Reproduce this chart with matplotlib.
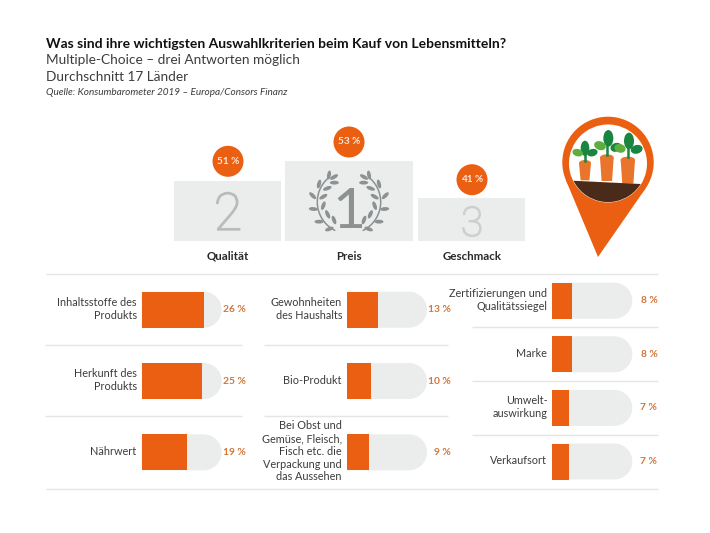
import numpy as np
import matplotlib
matplotlib.use("Agg")
import matplotlib.pyplot as plt
import matplotlib.patheffects as pe
from matplotlib.patches import Rectangle, Circle, Ellipse, Polygon, PathPatch
from matplotlib.path import Path

FONT = "Lato"
plt.rcParams["font.family"] = [FONT, "DejaVu Sans"]

title = "Was sind ihre wichtigsten Auswahlkriterien beim Kauf von Lebensmitteln?"
subtitle = ["Multiple-Choice – drei Antworten möglich", "Durchschnitt 17 Länder"]
source = "Quelle: Konsumbarometer 2019 – Europa/Consors Finanz"

podium_names = ["Qualität", "Preis", "Geschmack"]
podium_values = [51, 53, 41]
podium_ranks = ["2", "1", "3"]

col1_labels = ["Inhaltsstoffe des\nProdukts", "Herkunft des\nProdukts", "Nährwert"]
col1_values = [26, 25, 19]
col2_labels = ["Gewohnheiten\ndes Haushalts", "Bio-Produkt",
               "Bei Obst und\nGemüse, Fleisch,\nFisch etc. die\nVerpackung und\ndas Aussehen"]
col2_values = [13, 10, 9]
col3_labels = ["Zertifizierungen und\nQualitätssiegel", "Marke", "Umwelt-\nauswirkung", "Verkaufsort"]
col3_values = [8, 8, 7, 7]

ORANGE = "#EA5F12"
GREY = "#EBECEC"
TEXT = "#3C3C3C"
VAL = "#D2763A"
LINE = "#E4E5E5"

W, H = 710, 533
fig = plt.figure(figsize=(W / 100, H / 100), dpi=100, facecolor="white")
cv = fig.add_axes([0, 0, 1, 1], zorder=0)
cv.set_xlim(0, W)
cv.set_ylim(H, 0)
cv.axis("off")

# header
cv.text(46, 44, title, fontsize=10.03, fontweight="bold", color="#111111", va="center")
cv.text(46, 60.5, subtitle[0], fontsize=9.8, color=TEXT, va="center")
cv.text(46, 77, subtitle[1], fontsize=9.8, color=TEXT, va="center")
cv.text(46, 92.5, source, fontsize=7.2, style="italic", color=TEXT, va="center")

# separators
for y, x0, x1 in [(274, 46, 658), (488.7, 46, 658),
                  (345.3, 45, 242), (416.3, 45, 242),
                  (345.3, 264, 448), (416.3, 264, 448),
                  (327.3, 472, 658), (381, 472, 658), (434.5, 472, 658)]:
    cv.plot([x0, x1], [y, y], color=LINE, lw=1, solid_capstyle="butt")

# podium
boxes = [(174, 281.3, 181), (285.3, 413, 161), (418.3, 525.3, 198.3)]
circles_y = [161.3, 142, 179.7]
centers = [228, 349, 472]
# size, colour, baseline, family, weight, extra stroke
rank_style = [(37.5, "#B9BCBD", 230, "Roboto", "light", 1.0),
              (41, "#8D9192", 228, "Lato", "normal", 0),
              (29.5, "#CDCFD0", 236, "Roboto", "light", 1.0)]
BASE = 241.3
for (x0, x1, top), cy, cx, name, val, rank, (fs, col, ry, fam, wgt, st) in zip(
        boxes, circles_y, centers, podium_names, podium_values, podium_ranks, rank_style):
    cv.add_patch(Rectangle((x0, top), x1 - x0, BASE - top, fc=GREY, ec="none"))
    cv.add_patch(Circle((cx, cy), 15.5, fc=ORANGE, ec="none"))
    cv.text(cx, cy, f"{val} %", color="#FBE9DC", fontsize=7.2, fontweight="bold", ha="center", va="center")
    cv.text(cx, 256, name, color="#2A2A2A", fontsize=8.3, fontweight="bold", ha="center", va="center")
    t = cv.text(cx, ry, rank, color=col, fontsize=fs, family=fam, fontweight=wgt,
                ha="center", va="baseline")
    if st:
        t.set_path_effects([pe.withStroke(linewidth=st, foreground=col)])

# laurel wreath
WR = "#8D9192"
leaves = [(87, 30, 80), (102, 36, 30), (103, 53, 0), (57, 57, 75), (82, 70, 20), (38, 92, -45),
          (70, 95, 30), (40, 132, -5), (70, 122, 70), (57, 170, 0), (83, 148, -65), (102, 165, -70),
          (88, 192, 20)]
for sign in (-1, 1):
    a = np.radians(np.linspace(-49, 63, 50))
    cv.plot(349 + sign * 31.7 * np.cos(a), 202 + 31.7 * np.sin(a), color=WR, lw=1.1)
    for zx, zy, ang in leaves:
        x = 300 + zx / 3
        y = 165 + zy / 3
        if sign == 1:
            x = 2 * 349 - x
        cv.add_patch(Ellipse((x, y), 9, 3.8, angle=sign * ang, fc=WR, ec="none"))

# pin
tip = np.array([598.0, 257.0])
c = np.array([608.0, 162.4])
R = 45.7
d = c - tip
base = np.arctan2(d[1], d[0])
off = np.arccos(R / np.linalg.norm(d))
t1 = base + np.pi - off
t2 = base + np.pi + off
p1 = c + R * np.array([np.cos(t1), np.sin(t1)])
p2 = c + R * np.array([np.cos(t2), np.sin(t2)])
cv.add_patch(Circle(c, R, fc=ORANGE, ec="none"))
cv.add_patch(Polygon([tip, p1, p2], closed=True, fc=ORANGE, ec="none"))
cv.add_patch(Circle((608, 163.5), 39, fc="white", ec="none", zorder=2))

CAR = "#E9742B"
GR = "#1A8540"
GL = "#5DAE3F"
# carrot bodies (crop coordinates of the pin, 3x, origin 555,115)
for z0, z1, ztop, zbot in [(72, 108, 135, 196), (135, 176, 118, 198), (197, 240, 125, 206)]:
    x0, x1 = 555 + z0 / 3, 555 + z1 / 3
    top, bot = 115 + ztop / 3, 115 + zbot / 3
    cv.add_patch(Ellipse(((x0 + x1) / 2, top + 3.2), x1 - x0, 6.4, fc=CAR, ec="none", zorder=3))
    cv.add_patch(Polygon([(x0, top + 3.2), (x1, top + 3.2), (x1 - 1.6, bot), (x0 + 1.6, bot)],
                         closed=True, fc=CAR, ec="none", zorder=3))

greens = [(90, 100, 26, 46, 0, GR), (68, 113, 32, 22, 15, GL), (112, 113, 32, 22, -15, GR),
          (160, 70, 30, 50, 0, GR), (135, 92, 36, 26, 20, GL), (183, 97, 34, 26, -20, GR),
          (222, 78, 30, 50, 0, GR), (195, 100, 34, 26, 15, GL), (245, 103, 36, 26, -15, GR)]
for zx, zy, w, h, ang, col in greens:
    cv.add_patch(Ellipse((555 + zx / 3, 115 + zy / 3), w / 3, h / 3, angle=ang, fc=col, ec="none", zorder=4))
for z, z0, z1 in [(90, 85, 137), (157, 60, 120), (220, 70, 127)]:
    cv.plot([555 + z / 3] * 2, [115 + z0 / 3, 115 + z1 / 3], color=GR, lw=1.8, zorder=4)

soil = Polygon([(560, 180.1), (655, 184.7), (655, 215), (560, 215)], closed=True,
               fc="#4A2A18", ec="none", zorder=5)
cv.add_patch(soil)
soil.set_clip_path(Circle((608, 163.5), 38.6, transform=cv.transData))

# rails + bars
PX_PER_PCT = 2.41
RAIL = 80
RAIL_H = 36


def rail(x, y):
    r = RAIL_H / 2
    k = 0.5523 * r
    verts = [(x, y), (x + RAIL - r, y), (x + RAIL - r + k, y), (x + RAIL, y + r - k), (x + RAIL, y + r),
             (x + RAIL, y + r + k), (x + RAIL - r + k, y + RAIL_H), (x + RAIL - r, y + RAIL_H),
             (x, y + RAIL_H), (x, y)]
    codes = [Path.MOVETO, Path.LINETO, Path.CURVE4, Path.CURVE4, Path.CURVE4,
             Path.CURVE4, Path.CURVE4, Path.CURVE4, Path.LINETO, Path.CLOSEPOLY]
    cv.add_patch(PathPatch(Path(verts, codes), fc=GREY, ec="none"))


def column(x_left, first_center, spacing, labels, values, val_right):
    n = len(values)
    top = first_center - spacing / 2
    bottom = first_center + spacing * (n - 0.5)
    ax = fig.add_axes([x_left / W, 1 - bottom / H, RAIL / W, (bottom - top) / H], zorder=1)
    ax.patch.set_alpha(0)
    ax.set_xlim(0, RAIL / PX_PER_PCT)
    ax.set_ylim(n - 0.5, -0.5)
    ax.axis("off")
    pos = np.arange(n)
    ax.barh(pos, values, height=RAIL_H / spacing, color=ORANGE, edgecolor="none")
    for i, (lab, v) in enumerate(zip(labels, values)):
        cy = first_center + i * spacing
        rail(x_left, cy - RAIL_H / 2)
        cv.text(x_left - 5, cy - 1, lab, fontsize=7.8, color=TEXT, ha="right", va="center",
                linespacing=1.2)
        cv.text(val_right, cy, f"{v} %", fontsize=7.4, color=VAL, fontweight="bold",
                ha="right", va="center")


column(141.7, 309.7, 71.3, col1_labels, col1_values, 246)
column(347, 309.7, 71.3, col2_labels, col2_values, 451)
column(552.3, 300.7, 53.6, col3_labels, col3_values, 657.3)

fig.savefig("out.png", dpi=100, facecolor="white")
